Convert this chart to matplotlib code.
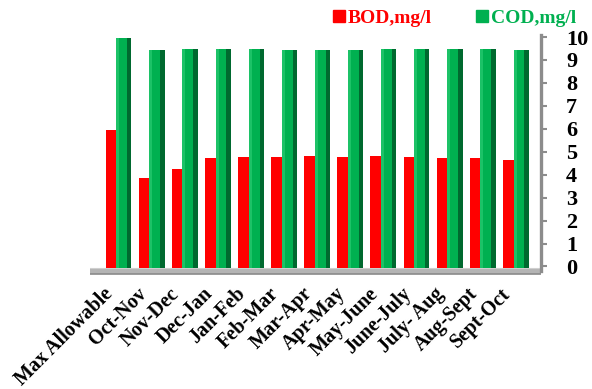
import matplotlib
matplotlib.use("Agg")
import matplotlib.pyplot as plt
from matplotlib.patches import Patch
import numpy as np

periods = ["Max Allowable", "Oct-Nov", "Nov-Dec", "Dec-Jan", "Jan-Feb", "Feb-Mar",
           "Mar-Apr", "Apr-May", "May-June", "June-July", "July- Aug", "Aug-Sept", "Sept-Oct"]
bod = [6.0, 3.9, 4.3, 4.8, 4.85, 4.85, 4.87, 4.85, 4.86, 4.85, 4.8, 4.78, 4.72]
cod = [10.0, 9.5, 9.52, 9.52, 9.52, 9.5, 9.5, 9.5, 9.52, 9.52, 9.52, 9.52, 9.5]

RED = "#ff0000"
GREEN = "#00b050"
GREEN_DARK = "#00692f"
GREEN_LIGHT = "#2fcf78"
WALL = "#8c8c8c"

plt.rcParams["font.family"] = ["Liberation Serif", "DejaVu Serif"]
plt.rcParams["font.weight"] = "bold"

fig = plt.figure(figsize=(5.92, 3.89), dpi=100)
ax = fig.add_axes([90 / 592, 0.2884, (541 - 90) / 592, 0.6252])

x = np.arange(len(periods))
w_red, w_grn = 0.33, 0.46
off_red, off_grn = -0.225, 0.16

# floor
ax.axhspan(-0.33, -0.06, color="#b4b4b4", lw=0, zorder=0)
ax.axhline(-0.33, color="#8a8a8a", lw=1.2, zorder=0)
ax.axhline(-0.06, color="#cfcfcf", lw=0.8, zorder=0)

ax.bar(x + off_red, bod, width=w_red, color=RED, zorder=2, bottom=-0.06)
# cylinder-ish shading on the green bars: light left edge, dark right side
ax.bar(x + off_grn, cod, width=w_grn, color=GREEN, zorder=3, bottom=-0.06)
ax.bar(x + off_grn - w_grn * 0.4, cod, width=w_grn * 0.2, color=GREEN_LIGHT,
       zorder=3, bottom=-0.06, alpha=0.6)
ax.bar(x + off_grn + w_grn * 0.36, cod, width=w_grn * 0.28, color=GREEN_DARK,
       zorder=3, bottom=-0.06)

ax.set_xlim(-0.861, 12.76)
ax.set_ylim(-0.45, 10.15)
for s in ["left", "top", "bottom"]:
    ax.spines[s].set_visible(False)
ax.spines["right"].set_color(WALL)
ax.spines["right"].set_linewidth(2.4)
ax.spines["right"].set_bounds(-0.2, 10.1)

ax.yaxis.tick_right()
ax.set_yticks(range(0, 11))
ax.tick_params(axis="y", colors=WALL, length=4, width=1.5, pad=14,
               labelcolor="black", labelsize=16)

ax.set_xticks(x - 0.46)
ax.set_xticklabels(periods, rotation=45, ha="right", va="top",
                   rotation_mode="anchor", fontsize=14.5, fontweight="bold")
ax.tick_params(axis="x", length=0, pad=5)

handles = [Patch(color=RED, label="BOD,mg/l"), Patch(color=GREEN, label="COD,mg/l")]
leg = fig.legend(handles=handles, loc="upper right", bbox_to_anchor=(1.003, 1.02),
                 ncol=2, frameon=False, fontsize=14, handlelength=0.6,
                 handleheight=0.6, handletextpad=0.15, columnspacing=2.3)
for t, c in zip(leg.get_texts(), [RED, GREEN]):
    t.set_color(c)
    t.set_fontweight("bold")

plt.savefig("out.png", dpi=100)
plt.close()
